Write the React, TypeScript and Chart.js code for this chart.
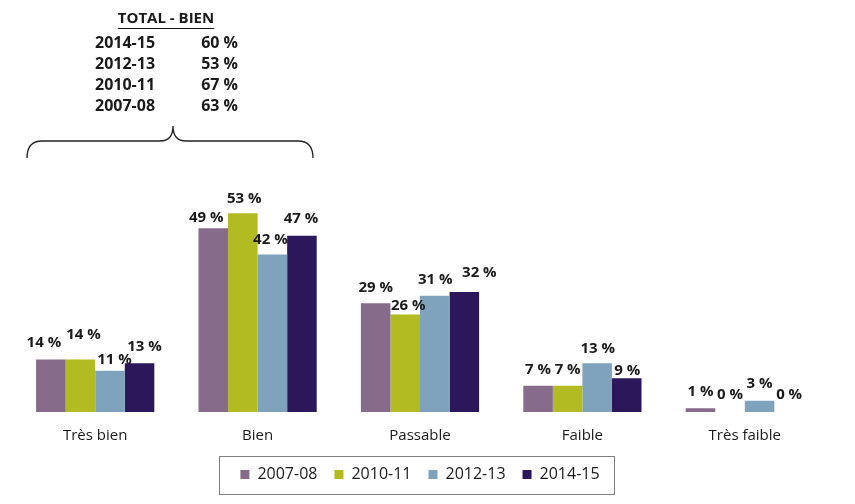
import React, { useEffect, useRef } from 'react';
import { Chart, registerables } from 'chart.js';

Chart.register(...registerables);

const categories = ['Très bien', 'Bien', 'Passable', 'Faible', 'Très faible'];
const seriesNames = ['2007-08', '2010-11', '2012-13', '2014-15'];
const values2007 = [14, 49, 29, 7, 1];
const values2010 = [14, 53, 26, 7, 0];
const values2012 = [11, 42, 31, 13, 3];
const values2014 = [13, 47, 32, 9, 0];
const seriesColors = ['#876B8A', '#B2BC22', '#7FA3BD', '#2B1759'];

const totalTitle = 'TOTAL - BIEN';
const totalYears = ['2014-15', '2012-13', '2010-11', '2007-08'];
const totalValues = [60, 53, 67, 63];

// label nudges [dx, rise above bar top] per series, per category
const labelNudge: [number, number][][] = [
  [[-7, 17], [-7, 11], [0, 16], [0, 16], [0, 17]],
  [[3, 25], [1.5, 15], [3, 9], [0, 16], [0, 17]],
  [[4.5, 11], [-2, 15], [0.5, 16], [0.5, 15], [0, 17]],
  [[5, 17], [-1, 17], [15, 19], [0.5, 8], [0, 17]],
];

const FONT = "'Open Sans', 'DejaVu Sans', sans-serif";

const labelsPlugin = {
  id: 'valueLabels',
  afterDatasetsDraw(chart: any) {
    const ctx = chart.ctx;
    ctx.save();
    ctx.font = `bold 15px ${FONT}`;
    ctx.fillStyle = '#1a1a1a';
    ctx.textAlign = 'center';
    ctx.textBaseline = 'middle';
    chart.data.datasets.forEach((ds: any, i: number) => {
      const meta = chart.getDatasetMeta(i);
      meta.data.forEach((bar: any, j: number) => {
        const [dx, rise] = labelNudge[i][j];
        ctx.fillText(`${ds.data[j]} %`, bar.x + dx, bar.y - rise);
      });
    });
    ctx.restore();
  },
};

const annotationPlugin = {
  id: 'totalAnnotation',
  afterDraw(chart: any) {
    const ctx = chart.ctx;
    ctx.save();
    ctx.fillStyle = '#1a1a1a';
    ctx.textBaseline = 'middle';
    ctx.font = `bold 15px ${FONT}`;
    ctx.textAlign = 'center';
    const tx = 166;
    ctx.fillText(totalTitle, tx, 19);
    const tw = ctx.measureText(totalTitle).width;
    ctx.strokeStyle = '#1a1a1a';
    ctx.lineWidth = 1.2;
    ctx.beginPath();
    ctx.moveTo(tx - tw / 2, 28.5);
    ctx.lineTo(tx + tw / 2, 28.5);
    ctx.stroke();
    ctx.font = `bold 16px ${FONT}`;
    totalYears.forEach((y, i) => {
      const yy = 43 + i * 21;
      ctx.textAlign = 'left';
      ctx.fillText(y, 95, yy);
      ctx.textAlign = 'right';
      ctx.fillText(`${totalValues[i]} %`, 238, yy);
    });
    // brace
    ctx.strokeStyle = '#222';
    ctx.lineWidth = 1.3;
    ctx.beginPath();
    ctx.moveTo(27, 158);
    ctx.quadraticCurveTo(27, 141, 42, 141);
    ctx.lineTo(160, 141);
    ctx.quadraticCurveTo(173, 141, 173, 126);
    ctx.quadraticCurveTo(173, 141, 186, 141);
    ctx.lineTo(298, 141);
    ctx.quadraticCurveTo(313, 141, 313, 158);
    ctx.stroke();

    // legend border
    const lg = chart.legend;
    if (lg && lg.legendHitBoxes && lg.legendHitBoxes.length) {
      const hb = lg.legendHitBoxes;
      let minL = Infinity, maxR = -Infinity, minT = Infinity, maxB = -Infinity;
      hb.forEach((b: any) => {
        minL = Math.min(minL, b.left);
        maxR = Math.max(maxR, b.left + b.width);
        minT = Math.min(minT, b.top);
        maxB = Math.max(maxB, b.top + b.height);
      });
      const cy = (minT + maxB) / 2;
      ctx.strokeStyle = '#7f7f7f';
      ctx.lineWidth = 1;
      ctx.strokeRect(Math.round(minL - 21) + 0.5, Math.round(cy - 19) + 0.5, Math.round(maxR - minL + 36), 38);
    }
    ctx.restore();
  },
};

export default function App() {
  const ref = useRef<HTMLCanvasElement>(null);
  useEffect(() => {
    document.body.style.margin = '0';
    const seriesValues = [values2007, values2010, values2012, values2014];
    const chart = new Chart(ref.current as HTMLCanvasElement, {
      type: 'bar',
      data: {
        labels: categories,
        datasets: seriesNames.map((name, i) => ({
          label: name,
          data: seriesValues[i],
          backgroundColor: seriesColors[i],
          borderWidth: 0,
          categoryPercentage: 0.728,
          barPercentage: 1,
        })),
      },
      options: {
        responsive: false,
        devicePixelRatio: 1,
        animation: false,
        layout: { padding: { left: 14, right: 29, top: 187, bottom: 11.5 } },
        scales: {
          x: {
            grid: { display: false, drawTicks: false },
            border: { display: false },
            ticks: { color: '#1a1a1a', font: { family: FONT, size: 15 }, padding: 15 },
            afterFit: (scale: any) => {
              scale.height = 37.5;
            },
          },
          y: {
            display: false,
            min: 0,
            max: 60,
          },
        },
        plugins: {
          legend: {
            position: 'bottom',
            labels: {
              boxWidth: 9,
              boxHeight: 9,
              padding: 17,
              color: '#1a1a1a',
              font: { family: FONT, size: 16 },
            },
          },
          tooltip: { enabled: false },
        },
      },
      plugins: [labelsPlugin, annotationPlugin],
    });
    return () => chart.destroy();
  }, []);
  return (
    <div style={{ position: 'absolute', left: 0, top: 0, width: 855, height: 504, background: '#fff' }}>
      <canvas ref={ref} width={855} height={504} />
    </div>
  );
}
